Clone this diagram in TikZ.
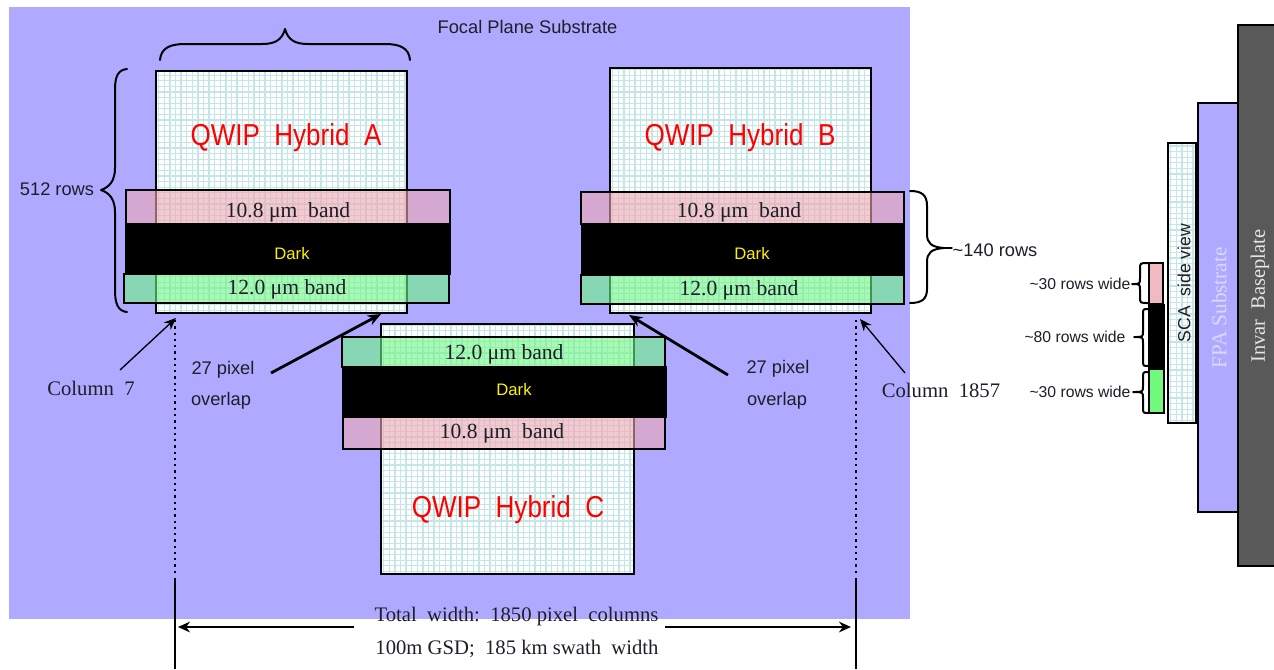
\documentclass[tikz,border=0pt]{standalone}
\usepackage{fontspec}
\usepackage{graphicx}
\setmainfont{Liberation Serif}
\setsansfont{Liberation Sans}
\usetikzlibrary{arrows.meta}
\definecolor{subst}{RGB}{175,170,255}
\definecolor{gridc}{RGB}{196,230,230}
\definecolor{redband}{RGB}{238,167,177}
\definecolor{greenband}{RGB}{110,245,130}
\definecolor{invar}{RGB}{89,89,89}
\definecolor{txt}{RGB}{30,30,40}
\tikzset{
  px/.style={x=0.75pt,y=-0.75pt},
  region/.style={rectangle,inner sep=0pt,outer sep=0pt},
  gridded/.style={region,draw=black,line width=2pt,fill=white,
    path picture={
      \foreach \i in {0,...,50}{
        \draw[gridc,line width=0.95pt]
          ([xshift={\i*4.2pt+2pt}]path picture bounding box.south west) -- ++(0,300pt);
        \draw[gridc,line width=0.95pt]
          ([yshift={\i*4.2pt+2pt}]path picture bounding box.south west) -- ++(300pt,0);
      }
    }},
  redb/.style={region,draw=black,line width=2pt,fill=redband,fill opacity=0.6},
  greenb/.style={region,draw=black,line width=2pt,fill=greenband,fill opacity=0.6},
  darkb/.style={region,fill=black},
  bandtext/.style={font=\fontsize{16.2pt}{18pt}\selectfont,text=txt,inner sep=0pt},
  darktext/.style={font=\sffamily\fontsize{12.5pt}{14pt}\selectfont,text=yellow,inner sep=0pt},
  hybtext/.style={font=\sffamily\fontsize{22.7pt}{26pt}\selectfont,text=red,inner sep=0pt},
  sanslab/.style={font=\sffamily\fontsize{13.7pt}{16pt}\selectfont,text=txt,inner sep=0pt},
  sidelab/.style={font=\sffamily\fontsize{11.8pt}{14pt}\selectfont,text=txt,inner sep=0pt},
  seriflab/.style={font=\fontsize{15.5pt}{18pt}\selectfont,text=txt,inner sep=0pt},
  brc/.style={draw=black,line width=1.5pt,line cap=round,line join=round},
  thinarrow/.style={draw=black,line width=1pt,-{Stealth[length=9pt,width=7.5pt]}},
  thickarrow/.style={draw=black,line width=2.1pt,-{Stealth[length=10pt,width=8pt]}},
  dimarrow/.style={draw=black,line width=2pt,-{Stealth[length=9pt,width=8pt]}},
  dotline/.style={draw=black,line width=1.7pt,dash pattern=on 1.7pt off 3pt},
  solidline/.style={draw=black,line width=1.8pt},
}
\newcommand{\hybname}[1]{\scalebox{0.86}[1]{#1}}
% name, style, x1, y1, x2, y2 in reference pixels
\newcommand{\regionnode}[6]{%
  \node[#2,minimum width={(#5-#3)*0.75pt},minimum height={(#6-#4)*0.75pt}]
    (#1) at ({(#3+#5)/2},{(#4+#6)/2}) {};}
% vertical brace: end x, spine x, tip x, top y, tip y, bottom y, radius
\newcommand{\vbrace}[7]{%
  \draw[brc] (#1,#4) .. controls ({#2},#4) and ({#2},#4) .. ({#2},{#4+#7})
    -- ({#2},{#5-#7}) .. controls ({#2},#5) and ({#2},#5) .. (#3,#5)
    .. controls ({#2},#5) and ({#2},#5) .. ({#2},{#5+#7})
    -- ({#2},{#6-#7}) .. controls ({#2},#6) and ({#2},#6) .. (#1,#6);}
\begin{document}
\begin{tikzpicture}[px]
\useasboundingbox (0,0) rectangle (1274,669);
\fill[white] (0,0) rectangle (1274,669);
\regionnode{fp}{region,fill=subst}{9}{7}{910}{619}
\node[sanslab] (fptext) at (527.5,27) {Focal Plane Substrate};

% Hybrids
\regionnode{A}{gridded}{156}{71}{407}{313}
\regionnode{B}{gridded}{610}{68}{871}{313}
\regionnode{C}{gridded}{381}{324}{634}{574}
\node[hybtext] (At) at (286,138) {\hybname{QWIP\ \ Hybrid\ \ A}};
\node[hybtext] (Bt) at (740,138) {\hybname{QWIP\ \ Hybrid\ \ B}};
\node[hybtext] (Ct) at (508,510) {\hybname{QWIP\ \ Hybrid\ \ C}};

% Bands A
\regionnode{Ar}{redb}{126}{190}{450}{224}
\regionnode{Ag}{greenb}{124}{274}{449}{303}
\regionnode{Ad}{darkb}{125}{223}{451}{275}
\node[bandtext] (Art) at (288,212) {10.8 μm\ \ band};
\node[darktext] (Adt) at (292,254) {Dark};
\node[bandtext] (Agt) at (287,289) {12.0 μm band};
% Bands B
\regionnode{Br}{redb}{581}{192}{904}{224}
\regionnode{Bg}{greenb}{581}{275}{904}{304}
\regionnode{Bd}{darkb}{581}{224}{905}{276}
\node[bandtext] (Brt) at (739,212) {10.8 μm\ \ band};
\node[darktext] (Bdt) at (752,254) {Dark};
\node[bandtext] (Bgt) at (739,290) {12.0 μm band};
% Bands C
\regionnode{Cg}{greenb}{342}{337}{665}{367}
\regionnode{Cr}{redb}{343}{417}{665}{449}
\regionnode{Cd}{darkb}{342}{366}{667}{418}
\node[bandtext] (Cgt) at (504,354) {12.0 μm band};
\node[darktext] (Cdt) at (514,390) {Dark};
\node[bandtext] (Crt) at (502,433) {10.8 μm\ \ band};

% Braces, top and left
\draw[brc] (160,60) .. controls (161,48) and (170,44) .. (185,44) -- (262,44)
  .. controls (275,44) and (282,40) .. (285,29)
  .. controls (288,40) and (295,44) .. (308,44) -- (385,44)
  .. controls (400,44) and (409,48) .. (410,60);
\draw[brc] (127,69) .. controls (118,70) and (115,76) .. (115,90) -- (115,168)
  .. controls (115,180) and (110,187) .. (101,190)
  .. controls (110,193) and (115,200) .. (115,212) -- (115,290)
  .. controls (115,304) and (118,311) .. (127,312);
\node[sanslab] (rows512) at (57,189) {512 rows};
% Brace, right
\draw[brc] (910,191) .. controls (922,191) and (927,195) .. (927,206) -- (927,234)
  .. controls (927,243) and (931,247) .. (944,248)
  .. controls (931,249) and (927,253) .. (927,262) -- (927,289)
  .. controls (927,299) and (922,303) .. (910,303);
\draw[brc,line width=1pt] (944,248) -- (952,248);
\node[sanslab] (rows140) at (995,250) {\textasciitilde140 rows};

% Lower texts
\node[sanslab] (o1a) at (223,370) {27 pixel};
\node[sanslab] (o1b) at (221,401) {overlap};
\node[sanslab] (o2a) at (778,369) {27 pixel};
\node[sanslab] (o2b) at (777,401) {overlap};
\node[seriflab] (col7) at (91,388) {Column\ \ 7};
\node[seriflab] (col1857) at (941,390) {Column\ \ 1857};
\node[seriflab] (tw) at (516.5,617) {Total\ \ width:\ \ 1850 pixel\ \ columns};
\node[seriflab] (gsd) at (517,649) {100m GSD;\ \ 185 km swath\ \ width};

% Arrows
\coordinate (c7tip) at (176,318);
\coordinate (c7tail) at (120,370);
\coordinate (o1tip) at (381,314);
\coordinate (o1tail) at (271,373);
\coordinate (o2tip) at (629,315);
\coordinate (o2tail) at (728,375);
\coordinate (c1857tip) at (860,319);
\coordinate (c1857tail) at (905,373);
\draw[thinarrow] (c7tail) -- (c7tip);
\draw[thickarrow] (o1tail) -- (o1tip);
\draw[thickarrow] (o2tail) -- (o2tip);
\draw[thinarrow] (c1857tail) -- (c1857tip);

% Extents
\coordinate (lt) at (175,320);
\coordinate (lm) at (175,575);
\coordinate (lb) at (175,669);
\coordinate (rt) at (856,320);
\coordinate (rm) at (856,575);
\coordinate (rb) at (856,669);
\draw[dotline] (lt) -- (lm);
\draw[solidline] (lm) ++(0,3) -- (lb);
\draw[dotline] (rt) -- (rm);
\draw[solidline] (rm) ++(0,3) -- (rb);
\coordinate (dl) at (178,627);
\coordinate (dlg) at (354,627);
\coordinate (dr) at (851,627);
\coordinate (drg) at (665,627);
\draw[dimarrow] (dlg) -- (dl);
\draw[dimarrow] (drg) -- (dr);

% Side view
\regionnode{inv}{region,fill=invar,draw=black,line width=1pt}{1238}{25}{1274.5}{566}
\regionnode{fpa}{region,fill=subst,draw=black,line width=1.5pt}{1198}{103}{1238}{512}
\regionnode{sca}{gridded}{1168}{143}{1196}{423}
\regionnode{sr}{region,fill=redband!80!white,draw=black,line width=1.6pt}{1149}{263}{1163}{304}
\regionnode{sg}{region,fill=greenband!70!green!80!white,draw=black,line width=1.6pt}{1149}{369}{1164}{413}
\regionnode{sd}{darkb}{1148}{304}{1165}{369}
\node[font=\sffamily\fontsize{13.2pt}{15pt}\selectfont,text=txt,rotate=90,inner sep=0pt] (scat) at (1184,283) {SCA\ \ side view};
\node[font=\fontsize{15.9pt}{18pt}\selectfont,text=subst!45!white,rotate=90,inner sep=0pt] (fpat) at (1219,308) {FPA Substrate};
\node[font=\fontsize{15.3pt}{18pt}\selectfont,text=white!85!invar,rotate=90,inner sep=0pt] (invt) at (1260,296) {Invar\ \ Baseplate};
\vbrace{1148}{1140}{1132}{263}{284}{303}{6}
\vbrace{1148}{1143}{1134}{309}{337}{366}{6}
\vbrace{1148}{1143}{1133}{372}{392}{413}{6}
\node[sidelab] (w1) at (1080,284) {\textasciitilde30 rows\ wide};
\node[sidelab] (w2) at (1075,337) {\textasciitilde80 rows\ wide};
\node[sidelab] (w3) at (1080,392) {\textasciitilde30 rows\ wide};
\end{tikzpicture}
\end{document}
